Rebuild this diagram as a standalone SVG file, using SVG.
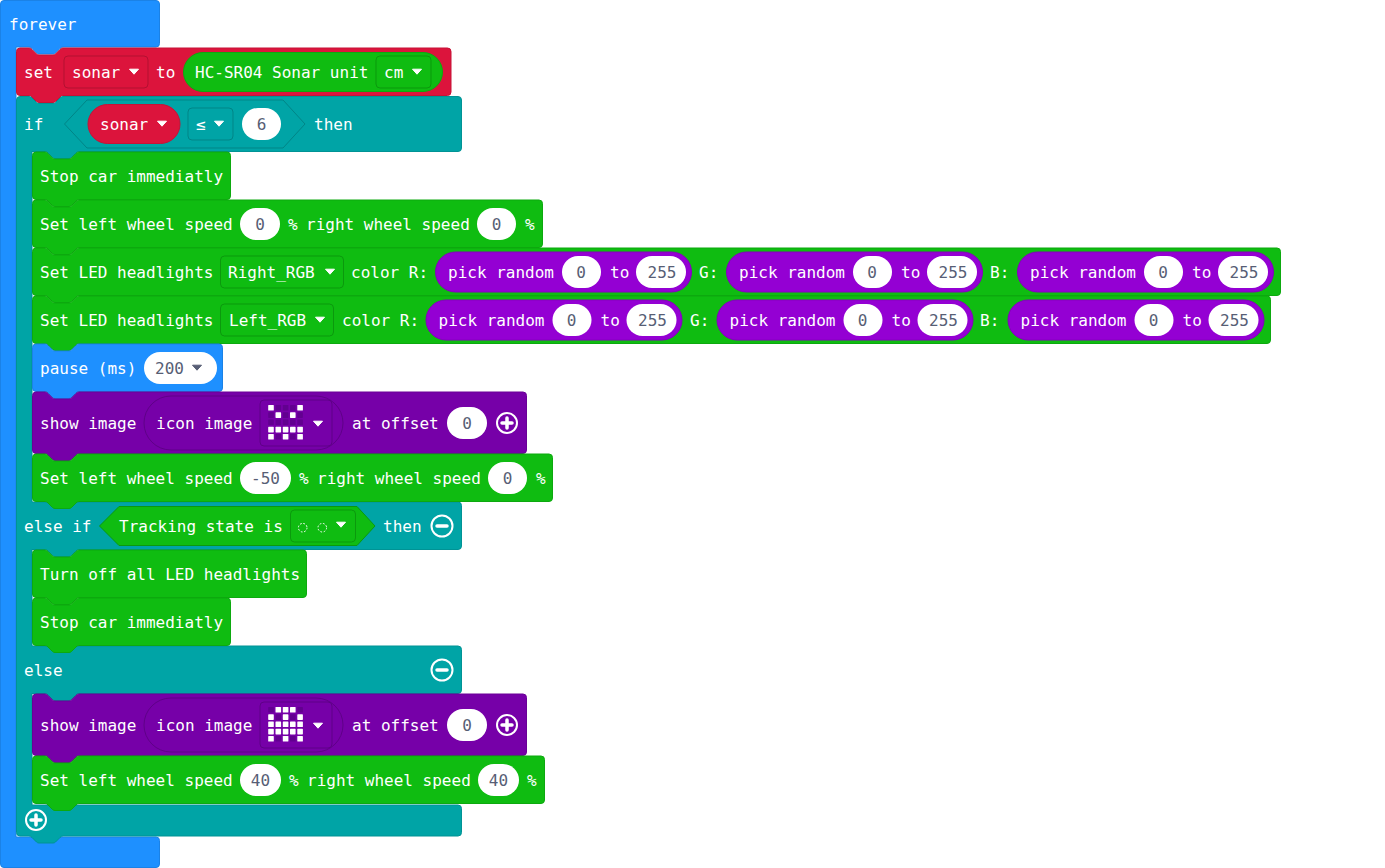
<svg xmlns="http://www.w3.org/2000/svg" width="1385" height="868" viewBox="0 0 1385 868">
<style>
text{font-family:"DejaVu Sans Mono","Liberation Mono",monospace;font-size:16px;fill:#fff;white-space:pre}
text.v{fill:#575e75;text-anchor:middle}
text.l{fill:#575e75}
.blue{fill:#1e90ff;stroke:#1b82e6}
.red{fill:#dc143c;stroke:#c61236}
.teal{fill:#00a4a6;stroke:#009395}
.green{fill:#0fbc11;stroke:#0da90f}
.img{fill:#7600a8;stroke:#6a0097}
.rnd{fill:#9400d3;stroke:#8500be}
.dd-red{fill:none;stroke:#b31031}
.dd-green{fill:none;stroke:#0b990d}
.dd-teal{fill:none;stroke:#008587}
.dd-img{fill:none;stroke:#5f0088}
.hex-teal{fill:#00a4a6;stroke:#008587}
.hex-green{fill:#0fbc11;stroke:#0b990d}
.w{fill:#fff}
.arr{fill:#fff;stroke:#fff;stroke-width:1;stroke-linejoin:round}
.arg{fill:#575e75;stroke:#575e75;stroke-width:1;stroke-linejoin:round}
.ic{fill:none;stroke:#fff;stroke-width:2}
.ib{stroke:#fff;stroke-width:3.5;stroke-linecap:round;fill:none}
.on{fill:#fff}
.off{fill:#620090}
</style>
<defs>
<path id="ar" d="M-4.500,-1.800H4.500L0,3.200Z"/>
<g id="plus"><circle r="10" class="ic"/><path class="ib" d="M-5,0H5M0,-5V5"/></g>
<g id="minus"><circle r="10.500" class="ic"/><path class="ib" d="M-5,0H5"/></g>
<g id="pick">
<rect x="0.500" y="0.500" width="256" height="40" rx="20" class="rnd"/>
<text x="13" y="26">pick random</text>
<rect x="127" y="4.500" width="39" height="32" rx="16" class="w"/>
<text x="146" y="26" class="v">0</text>
<text x="175" y="26">to</text>
<rect x="201" y="4.500" width="50" height="32" rx="16" class="w"/>
<text x="227" y="26" class="v">255</text>
</g>
<g id="icon-frame">
<rect x="144" y="4" width="199" height="54" rx="27" class="dd-img"/>
<rect x="260" y="8" width="72" height="46" rx="4" class="dd-img"/>
<text x="156" y="37">icon image</text>
<use href="#ar" x="318" y="31" class="arr"/>
</g>
<rect id="c" width="5.600" height="5.600" rx="0.600"/>
</defs>

<g id="connectors"></g>

<g id="forever">
<path class="blue" d="M4,0.500H156a3.500,3.500 0 0 1 3.500,3.500V43.500a3.500,3.500 0 0 1 -3.500,3.500H63q-2,0 -3,1.500l-4.500,4.500q-1,1 -2.500,1h-14q-1.500,0 -2.500,-1l-4.500,-4.500q-1,-1.500 -3,-1.500H16V837H156a3.500,3.500 0 0 1 3.500,3.500V864a3.500,3.500 0 0 1 -3.500,3.500H4A3.500,3.500 0 0 1 0.500,864V4A3.500,3.500 0 0 1 4,0.500Z"/>
<text x="9" y="30">forever</text>
</g>

<g id="set-sonar">
<path class="red" d="M20,48H29q2,0 3,1.500l4.500,4.500q1,1 2.500,1h14q1.500,0 2.500,-1l4.500,-4.500q1,-1.500 3,-1.500H447.500a3.500,3.500 0 0 1 3.500,3.500V92a3.500,3.500 0 0 1 -3.500,3.500H63q-2,0 -3,1.500l-4.500,4.500q-1,1 -2.500,1h-14q-1.500,0 -2.500,-1l-4.500,-4.500q-1,-1.500 -3,-1.500H20a3.500,3.500 0 0 1 -3.500,-3.500V51.500A3.500,3.500 0 0 1 20,48Z"/>
<text x="24" y="78">set</text>
<rect x="64" y="56" width="84" height="32" rx="4" class="dd-red"/>
<text x="72" y="78">sonar</text>
<use href="#ar" x="134" y="71" class="arr"/>
<text x="156" y="78">to</text>
<rect x="183.500" y="52.500" width="259" height="39" rx="19.500" class="green"/>
<text x="195" y="78">HC-SR04 Sonar unit</text>
<rect x="376" y="56" width="55" height="32" rx="4" class="dd-green"/>
<text x="384" y="78">cm</text>
<use href="#ar" x="417" y="71" class="arr"/>
</g>

<g id="if-block">
<path class="teal" d="M20,96.500H29q2,0 3,1.500l4.500,4.500q1,1 2.500,1h14q1.500,0 2.500,-1l4.500,-4.500q1,-1.500 3,-1.500H458a3.500,3.500 0 0 1 3.500,3.500V148a3.500,3.500 0 0 1 -3.500,3.500H79q-2,0 -3,1.500l-4.500,4.500q-1,1 -2.500,1h-14q-1.500,0 -2.500,-1l-4.500,-4.500q-1,-1.500 -3,-1.500H32V502H458a3.500,3.500 0 0 1 3.500,3.500V546a3.500,3.500 0 0 1 -3.500,3.500H79q-2,0 -3,1.500l-4.500,4.500q-1,1 -2.500,1h-14q-1.500,0 -2.500,-1l-4.500,-4.500q-1,-1.500 -3,-1.500H32V646H458a3.500,3.500 0 0 1 3.500,3.500V690a3.500,3.500 0 0 1 -3.500,3.500H79q-2,0 -3,1.500l-4.500,4.500q-1,1 -2.500,1h-14q-1.500,0 -2.500,-1l-4.500,-4.500q-1,-1.500 -3,-1.500H32V805H458a3.500,3.500 0 0 1 3.500,3.500V832.500a3.500,3.500 0 0 1 -3.500,3.500H63q-2,0 -3,1.500l-4.500,4.500q-1,1 -2.500,1h-14q-1.500,0 -2.500,-1l-4.500,-4.500q-1,-1.500 -3,-1.500H20a3.500,3.500 0 0 1 -3.500,-3.500V100A3.500,3.500 0 0 1 20,96.500Z"/>
<text x="24" y="130">if</text>
<path class="hex-teal" d="M64.500,124L87,100H283L305,124L283,148H87Z"/>
<rect x="88" y="104.500" width="92" height="39" rx="19.500" class="red"/>
<text x="100" y="130">sonar</text>
<use href="#ar" x="162" y="123" class="arr"/>
<rect x="188" y="108" width="45" height="32" rx="4" class="dd-teal"/>
<text x="196" y="130">≤</text>
<use href="#ar" x="219" y="123" class="arr"/>
<rect x="242" y="108" width="39" height="32" rx="16" class="w"/>
<text x="261.500" y="130" class="v">6</text>
<text x="314" y="130">then</text>
<text x="24" y="532">else if</text>
<path class="hex-green" d="M99.500,526L119,506.500H357L375,526L357,545.500H119Z"/>
<text x="119" y="532">Tracking state is</text>
<rect x="290.500" y="510" width="65" height="32" rx="4" class="dd-green"/>
<circle cx="302.700" cy="527.700" r="4.300" fill="none" stroke="#fff" stroke-dasharray="1.700 1.700"/>
<circle cx="322.300" cy="527.700" r="4.300" fill="none" stroke="#fff" stroke-dasharray="1.700 1.700"/>
<use href="#ar" x="341" y="524" class="arr"/>
<text x="383" y="532">then</text>
<use href="#minus" x="442" y="526"/>
<text x="24" y="676">else</text>
<use href="#minus" x="442" y="670"/>
<use href="#plus" x="36" y="820"/>
</g>

<g id="stop-1">
<path class="green" d="M36,152H45q2,0 3,1.500l4.500,4.500q1,1 2.500,1h14q1.500,0 2.500,-1l4.500,-4.500q1,-1.500 3,-1.500H227a3.500,3.500 0 0 1 3.500,3.500V196a3.500,3.500 0 0 1 -3.500,3.500H79q-2,0 -3,1.500l-4.500,4.500q-1,1 -2.500,1h-14q-1.500,0 -2.500,-1l-4.500,-4.500q-1,-1.500 -3,-1.500H36A3.500,3.500 0 0 1 32.500,196V155.500A3.500,3.500 0 0 1 36,152Z"/>
<text x="40" y="182">Stop car immediatly</text>
</g>

<g id="speed-1">
<path class="green" d="M36,200H45q2,0 3,1.500l4.500,4.500q1,1 2.500,1h14q1.500,0 2.500,-1l4.500,-4.500q1,-1.500 3,-1.500H539a3.500,3.500 0 0 1 3.500,3.500V244a3.500,3.500 0 0 1 -3.500,3.500H79q-2,0 -3,1.500l-4.500,4.500q-1,1 -2.500,1h-14q-1.500,0 -2.500,-1l-4.500,-4.500q-1,-1.500 -3,-1.500H36A3.500,3.500 0 0 1 32.500,244V203.500A3.500,3.500 0 0 1 36,200Z"/>
<text x="40" y="230">Set left wheel speed</text>
<rect x="240" y="208" width="40" height="32" rx="16" class="w"/>
<text x="260" y="230" class="v">0</text>
<text x="288" y="230">%</text>
<text x="306" y="230">right wheel speed</text>
<rect x="477" y="208" width="39" height="32" rx="16" class="w"/>
<text x="496.500" y="230" class="v">0</text>
<text x="525" y="230">%</text>
</g>

<g id="led-right">
<path class="green" d="M36,248H45q2,0 3,1.500l4.500,4.500q1,1 2.500,1h14q1.500,0 2.500,-1l4.500,-4.500q1,-1.500 3,-1.500H1277a3.500,3.500 0 0 1 3.500,3.500V292a3.500,3.500 0 0 1 -3.500,3.500H79q-2,0 -3,1.500l-4.500,4.500q-1,1 -2.500,1h-14q-1.500,0 -2.500,-1l-4.500,-4.500q-1,-1.500 -3,-1.500H36A3.500,3.500 0 0 1 32.500,292V251.500A3.500,3.500 0 0 1 36,248Z"/>
<text x="40" y="278">Set LED headlights</text>
<rect x="220.500" y="256" width="123" height="32" rx="4" class="dd-green"/>
<text x="228" y="278">Right_RGB</text>
<use href="#ar" x="330" y="271" class="arr"/>
<text x="351" y="278">color R:</text>
<use href="#pick" x="435" y="251.500"/>
<text x="699" y="278">G:</text>
<use href="#pick" x="726" y="251.500"/>
<text x="990" y="278">B:</text>
<use href="#pick" x="1017" y="251.500"/>
</g>

<g id="led-left">
<path class="green" d="M36,296H45q2,0 3,1.500l4.500,4.500q1,1 2.500,1h14q1.500,0 2.500,-1l4.500,-4.500q1,-1.500 3,-1.500H1267a3.500,3.500 0 0 1 3.500,3.500V340a3.500,3.500 0 0 1 -3.500,3.500H79q-2,0 -3,1.500l-4.500,4.500q-1,1 -2.500,1h-14q-1.500,0 -2.500,-1l-4.500,-4.500q-1,-1.500 -3,-1.500H36A3.500,3.500 0 0 1 32.500,340V299.500A3.500,3.500 0 0 1 36,296Z"/>
<text x="40" y="326">Set LED headlights</text>
<rect x="220.500" y="304" width="113" height="32" rx="4" class="dd-green"/>
<text x="229" y="326">Left_RGB</text>
<use href="#ar" x="320" y="319" class="arr"/>
<text x="342" y="326">color R:</text>
<use href="#pick" x="425.500" y="299.500"/>
<text x="690" y="326">G:</text>
<use href="#pick" x="716.500" y="299.500"/>
<text x="980" y="326">B:</text>
<use href="#pick" x="1007.500" y="299.500"/>
</g>

<g id="pause">
<path class="blue" d="M36,344H45q2,0 3,1.500l4.500,4.500q1,1 2.500,1h14q1.500,0 2.500,-1l4.500,-4.500q1,-1.500 3,-1.500H219a3.500,3.500 0 0 1 3.500,3.500V388a3.500,3.500 0 0 1 -3.500,3.500H79q-2,0 -3,1.500l-4.500,4.500q-1,1 -2.500,1h-14q-1.500,0 -2.500,-1l-4.500,-4.500q-1,-1.500 -3,-1.500H36A3.500,3.500 0 0 1 32.500,388V347.500A3.500,3.500 0 0 1 36,344Z"/>
<text x="40" y="374">pause (ms)</text>
<rect x="144" y="352" width="73" height="32" rx="16" class="w"/>
<text x="155" y="374" class="l">200</text>
<use href="#ar" x="197" y="367" class="arg"/>
</g>

<g id="show-1">
<path class="img" d="M36,392H45q2,0 3,1.500l4.500,4.500q1,1 2.500,1h14q1.500,0 2.500,-1l4.500,-4.500q1,-1.500 3,-1.500H523a3.500,3.500 0 0 1 3.500,3.500V450a3.500,3.500 0 0 1 -3.500,3.500H79q-2,0 -3,1.500l-4.500,4.500q-1,1 -2.500,1h-14q-1.500,0 -2.500,-1l-4.500,-4.500q-1,-1.500 -3,-1.500H36A3.500,3.500 0 0 1 32.500,450V395.500A3.500,3.500 0 0 1 36,392Z"/>
<text x="40" y="429">show image</text>
<use href="#icon-frame" y="392"/>
<g class="off">
<use href="#c" x="275.500" y="405"/><use href="#c" x="282.800" y="405"/><use href="#c" x="290" y="405"/>
<use href="#c" x="268.200" y="412.300"/><use href="#c" x="282.800" y="412.300"/><use href="#c" x="297.300" y="412.300"/>
<use href="#c" x="268.200" y="419.500"/><use href="#c" x="275.500" y="419.500"/><use href="#c" x="282.800" y="419.500"/><use href="#c" x="290" y="419.500"/><use href="#c" x="297.300" y="419.500"/>
<use href="#c" x="275.500" y="434"/><use href="#c" x="290" y="434"/>
</g>
<g class="on">
<use href="#c" x="268.200" y="405"/><use href="#c" x="297.300" y="405"/>
<use href="#c" x="275.500" y="412.300"/><use href="#c" x="290" y="412.300"/>
<use href="#c" x="268.200" y="426.800"/><use href="#c" x="275.500" y="426.800"/><use href="#c" x="282.800" y="426.800"/><use href="#c" x="290" y="426.800"/><use href="#c" x="297.300" y="426.800"/>
<use href="#c" x="268.200" y="434"/><use href="#c" x="282.800" y="434"/><use href="#c" x="297.300" y="434"/>
</g>
<text x="352" y="429">at offset</text>
<rect x="447" y="407" width="40" height="32" rx="16" class="w"/>
<text x="467" y="429" class="v">0</text>
<use href="#plus" x="507" y="423"/>
</g>

<g id="speed-2">
<path class="green" d="M36,454H45q2,0 3,1.500l4.500,4.500q1,1 2.500,1h14q1.500,0 2.500,-1l4.500,-4.500q1,-1.500 3,-1.500H549a3.500,3.500 0 0 1 3.500,3.500V498a3.500,3.500 0 0 1 -3.500,3.500H79q-2,0 -3,1.500l-4.500,4.500q-1,1 -2.500,1h-14q-1.500,0 -2.500,-1l-4.500,-4.500q-1,-1.500 -3,-1.500H36A3.500,3.500 0 0 1 32.500,498V457.500A3.500,3.500 0 0 1 36,454Z"/>
<text x="40" y="484">Set left wheel speed</text>
<rect x="240" y="462" width="51" height="32" rx="16" class="w"/>
<text x="265.500" y="484" class="v">-50</text>
<text x="299" y="484">%</text>
<text x="317" y="484">right wheel speed</text>
<rect x="488" y="462" width="39" height="32" rx="16" class="w"/>
<text x="507.500" y="484" class="v">0</text>
<text x="536" y="484">%</text>
</g>

<g id="leds-off">
<path class="green" d="M36,550H45q2,0 3,1.500l4.500,4.500q1,1 2.500,1h14q1.500,0 2.500,-1l4.500,-4.500q1,-1.500 3,-1.500H303a3.500,3.500 0 0 1 3.500,3.500V594a3.500,3.500 0 0 1 -3.500,3.500H79q-2,0 -3,1.500l-4.500,4.500q-1,1 -2.500,1h-14q-1.500,0 -2.500,-1l-4.500,-4.500q-1,-1.500 -3,-1.500H36A3.500,3.500 0 0 1 32.500,594V553.500A3.500,3.500 0 0 1 36,550Z"/>
<text x="40" y="580">Turn off all LED headlights</text>
</g>

<g id="stop-2">
<path class="green" d="M36,598H45q2,0 3,1.500l4.500,4.500q1,1 2.500,1h14q1.500,0 2.500,-1l4.500,-4.500q1,-1.500 3,-1.500H227a3.500,3.500 0 0 1 3.500,3.500V642a3.500,3.500 0 0 1 -3.500,3.500H79q-2,0 -3,1.500l-4.500,4.500q-1,1 -2.500,1h-14q-1.500,0 -2.500,-1l-4.500,-4.500q-1,-1.500 -3,-1.500H36A3.500,3.500 0 0 1 32.500,642V601.500A3.500,3.500 0 0 1 36,598Z"/>
<text x="40" y="628">Stop car immediatly</text>
</g>

<g id="show-2">
<path class="img" d="M36,694H45q2,0 3,1.500l4.500,4.500q1,1 2.500,1h14q1.500,0 2.500,-1l4.500,-4.500q1,-1.500 3,-1.500H523a3.500,3.500 0 0 1 3.500,3.500V752a3.500,3.500 0 0 1 -3.500,3.500H79q-2,0 -3,1.500l-4.500,4.500q-1,1 -2.500,1h-14q-1.500,0 -2.500,-1l-4.500,-4.500q-1,-1.500 -3,-1.500H36A3.500,3.500 0 0 1 32.500,752V697.500A3.500,3.500 0 0 1 36,694Z"/>
<text x="40" y="731">show image</text>
<use href="#icon-frame" y="694"/>
<g class="off">
<use href="#c" x="268.200" y="707"/><use href="#c" x="297.300" y="707"/>
<use href="#c" x="275.500" y="714.300"/><use href="#c" x="290" y="714.300"/>
<use href="#c" x="275.500" y="736"/><use href="#c" x="290" y="736"/>
</g>
<g class="on">
<use href="#c" x="275.500" y="707"/><use href="#c" x="282.800" y="707"/><use href="#c" x="290" y="707"/>
<use href="#c" x="268.200" y="714.300"/><use href="#c" x="282.800" y="714.300"/><use href="#c" x="297.300" y="714.300"/>
<use href="#c" x="268.200" y="721.500"/><use href="#c" x="275.500" y="721.500"/><use href="#c" x="282.800" y="721.500"/><use href="#c" x="290" y="721.500"/><use href="#c" x="297.300" y="721.500"/>
<use href="#c" x="268.200" y="728.800"/><use href="#c" x="275.500" y="728.800"/><use href="#c" x="282.800" y="728.800"/><use href="#c" x="290" y="728.800"/><use href="#c" x="297.300" y="728.800"/>
<use href="#c" x="268.200" y="736"/><use href="#c" x="282.800" y="736"/><use href="#c" x="297.300" y="736"/>
</g>
<text x="352" y="731">at offset</text>
<rect x="447" y="709" width="40" height="32" rx="16" class="w"/>
<text x="467" y="731" class="v">0</text>
<use href="#plus" x="507" y="725"/>
</g>

<g id="speed-3">
<path class="green" d="M36,756H45q2,0 3,1.500l4.500,4.500q1,1 2.500,1h14q1.500,0 2.500,-1l4.500,-4.500q1,-1.500 3,-1.500H541a3.500,3.500 0 0 1 3.500,3.500V800a3.500,3.500 0 0 1 -3.500,3.500H79q-2,0 -3,1.500l-4.500,4.500q-1,1 -2.500,1h-14q-1.500,0 -2.500,-1l-4.500,-4.500q-1,-1.500 -3,-1.500H36A3.500,3.500 0 0 1 32.500,800V759.500A3.500,3.500 0 0 1 36,756Z"/>
<text x="40" y="786">Set left wheel speed</text>
<rect x="240" y="764" width="41" height="32" rx="16" class="w"/>
<text x="260.500" y="786" class="v">40</text>
<text x="289" y="786">%</text>
<text x="307" y="786">right wheel speed</text>
<rect x="478" y="764" width="41" height="32" rx="16" class="w"/>
<text x="498.500" y="786" class="v">40</text>
<text x="527" y="786">%</text>
</g>
</svg>
